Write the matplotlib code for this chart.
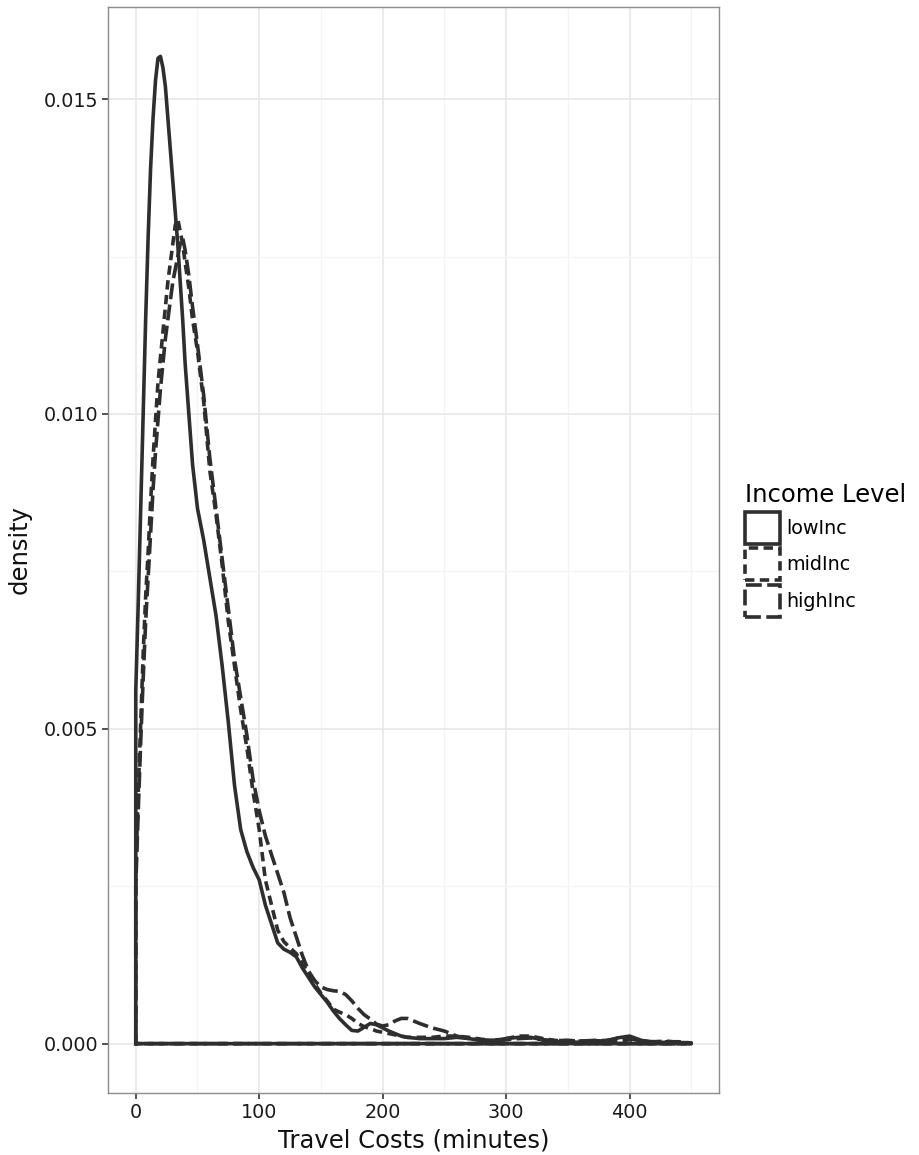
import numpy as np
import matplotlib
matplotlib.use("Agg")
import matplotlib.pyplot as plt
from matplotlib.patches import Patch
from matplotlib.ticker import MultipleLocator, FixedLocator

# ---------------- data ----------------
travel_min = [0, 2, 4, 6, 8, 10, 12, 14, 16, 18, 20, 22, 24, 26, 28, 30, 32, 34, 36, 38,
              40, 43, 46, 50, 55, 60, 65, 70, 75, 80, 85, 90, 95, 100, 105, 110, 115, 120,
              125, 130, 135, 140, 145, 150, 155, 160, 165, 170, 175, 180, 185, 190, 195,
              200, 205, 210, 215, 220, 225, 230, 240, 250, 260, 270, 280, 290, 300, 310,
              320, 330, 340, 350, 360, 370, 380, 390, 400, 410, 420, 430, 440, 450]

low_inc = [0.0056, 0.0070, 0.0085, 0.0100, 0.0115, 0.0128, 0.0139, 0.0147, 0.0153, 0.01565,
           0.01568, 0.0155, 0.0152, 0.0147, 0.0142, 0.0137, 0.0132, 0.0127, 0.0121, 0.0115,
           0.0108, 0.0100, 0.0092, 0.0085, 0.0080, 0.0074, 0.0068, 0.0060, 0.0051, 0.0041,
           0.0034, 0.00305, 0.0028, 0.0026, 0.0022, 0.0019, 0.0016, 0.0015, 0.00145, 0.00138,
           0.0012, 0.00105, 0.0009, 0.00078, 0.00066, 0.00052, 0.0004, 0.0003, 0.00021,
           0.0002, 0.00026, 0.00032, 0.0003, 0.00025, 0.0002, 0.00016, 0.00012, 0.0001,
           0.00009, 0.00008, 0.00008, 0.00008, 0.0001, 0.00008, 0.00005, 0.00005, 0.00008,
           0.0001, 0.0001, 0.00006, 0.00003, 0.00003, 0.00002, 0.00002, 0.00003, 0.00009,
           0.00012, 0.00005, 0.00002, 0.00002, 0.00001, 0.00001]

mid_inc = [0.0027, 0.0040, 0.0051, 0.0062, 0.0071, 0.0078, 0.0086, 0.0093, 0.0099, 0.0105,
           0.0109, 0.0113, 0.0117, 0.0121, 0.0124, 0.0127, 0.0130, 0.0131, 0.0129, 0.0127,
           0.0124, 0.0120, 0.0115, 0.0110, 0.0102, 0.0091, 0.0084, 0.0076, 0.0067, 0.0060,
           0.0053, 0.0047, 0.0040, 0.0034, 0.0026, 0.0022, 0.0018, 0.00162, 0.00152, 0.00143,
           0.00128, 0.0011, 0.00095, 0.0008, 0.00068, 0.00055, 0.0005, 0.00046, 0.0004,
           0.00032, 0.00027, 0.00024, 0.0002, 0.00018, 0.00016, 0.00014, 0.00012, 0.0001,
           0.0001, 0.0001, 0.0001, 0.00012, 0.00012, 0.0001, 0.00007, 0.00005, 0.00008,
           0.00012, 0.00012, 0.00008, 0.00005, 0.00005, 0.00004, 0.00005, 0.00004, 0.00005,
           0.00006, 0.00004, 0.00003, 0.00004, 0.00002, 0.00001]

high_inc = [0.0025, 0.0037, 0.0048, 0.0058, 0.0067, 0.0074, 0.0081, 0.0088, 0.0094, 0.0099,
            0.0104, 0.0108, 0.0112, 0.0115, 0.0118, 0.0121, 0.0123, 0.0125, 0.0127, 0.0128,
            0.0126, 0.0122, 0.0117, 0.0111, 0.0103, 0.0093, 0.0085, 0.0077, 0.0069, 0.0061,
            0.0055, 0.0049, 0.0042, 0.0037, 0.0033, 0.0030, 0.0027, 0.0024, 0.0020, 0.0017,
            0.0014, 0.00115, 0.001, 0.0009, 0.00086, 0.00084, 0.00083, 0.00078, 0.00068,
            0.00056, 0.00046, 0.00039, 0.00031, 0.00028, 0.0003, 0.00036, 0.0004, 0.0004,
            0.00036, 0.00032, 0.00025, 0.0002, 0.00012, 0.00008, 0.00006, 0.00005, 0.00006,
            0.00008, 0.00009, 0.00006, 0.00005, 0.00005, 0.00004, 0.00005, 0.00005, 0.00008,
            0.00008, 0.00004, 0.00003, 0.00003, 0.00003, 0.00001]

series_names = ["lowInc", "midInc", "highInc"]
series_values = [low_inc, mid_inc, high_inc]

x_ticks = [0, 100, 200, 300, 400]
y_ticks = [0.000, 0.005, 0.010, 0.015]
x_label = "Travel Costs (minutes)"
y_label = "density"
legend_title = "Income Level"

# ---------------- styling ----------------
line_color = "#2e2e2e"
line_w = 2.6
dash_styles = ["solid", (0, (2.6, 1.5)), (0, (4.4, 1.5))]

plt.rcParams["font.family"] = ["DejaVu Sans"]

fig = plt.figure(figsize=(9.2, 11.55), dpi=100)
ax = fig.add_axes([108 / 920, 1 - 1093 / 1155, (719 - 108) / 920, (1093 - 7) / 1155])

xs = np.asarray(travel_min, dtype=float)
for name, vals, ls in zip(series_names, series_values, dash_styles):
    ys = np.asarray(vals, dtype=float)
    px = np.concatenate([[xs[0]], xs, [xs[-1], xs[0]]])
    py = np.concatenate([[0.0], ys, [0.0, 0.0]])
    ax.plot(px, py, color=line_color, lw=line_w, linestyle=ls,
            solid_joinstyle="round", dash_capstyle="butt", zorder=3)

xmax = max(travel_min)
ymax = max(max(v) for v in series_values)
ax.set_xlim(-0.05 * xmax, xmax * 1.05)
ax.set_ylim(-0.05 * ymax, ymax * 1.05)

ax.xaxis.set_major_locator(FixedLocator(x_ticks))
ax.yaxis.set_major_locator(FixedLocator(y_ticks))
ax.xaxis.set_minor_locator(MultipleLocator(50))
ax.yaxis.set_minor_locator(MultipleLocator(0.0025))
ax.set_yticklabels([f"{v:.3f}" for v in y_ticks])
ax.set_xticklabels([str(v) for v in x_ticks])

ax.grid(which="major", color="#E6E6E6", lw=1.1, zorder=0)
ax.grid(which="minor", color="#F4F4F4", lw=0.9, zorder=0)
ax.set_axisbelow(True)
for s in ax.spines.values():
    s.set_color("#8c8c8c")
    s.set_linewidth(1.0)

ax.tick_params(which="major", length=4.5, width=1.2, color="#333333",
               labelsize=13.8, labelcolor="#1a1a1a", pad=2.5)
ax.tick_params(which="minor", length=0)

ax.set_xlabel(x_label, fontsize=17.5, color="#111111", labelpad=5)
ax.set_ylabel(y_label, fontsize=17.5, color="#111111", labelpad=9)

handles = [Patch(facecolor="white", edgecolor=line_color, linewidth=line_w, linestyle=ls)
           for ls in dash_styles]
leg = fig.legend(handles, series_names, title=legend_title, loc="center left",
                 bbox_to_anchor=(745 / 920, 1 - 550 / 1155), frameon=False,
                 fontsize=13.8, title_fontsize=17.5, handlelength=1.8, handleheight=2.19,
                 handletextpad=0.35, labelspacing=0.23, borderpad=0, borderaxespad=0,
                 alignment="left")

fig.savefig("out.png", dpi=100, facecolor="white")
